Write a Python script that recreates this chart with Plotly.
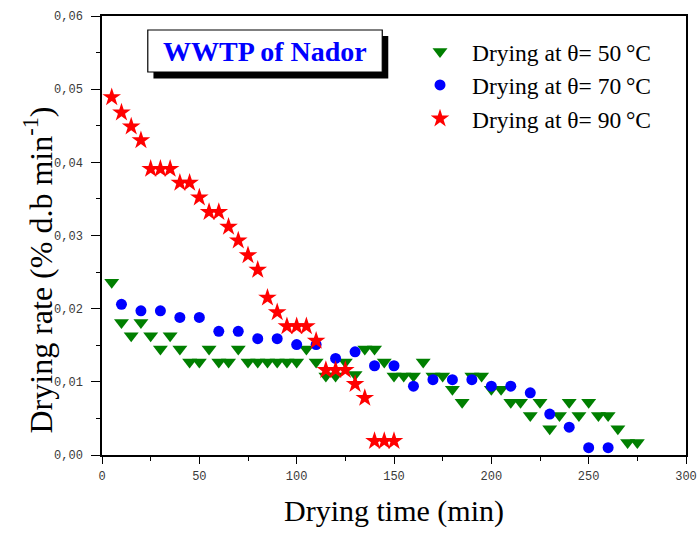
import plotly.graph_objects as go

# ---- data ----
t50 = [5, 10, 15, 20, 25, 30, 35, 40, 45, 50, 55, 60, 65, 70, 75, 80, 85, 90, 95, 100,
       105, 110, 115, 120, 125, 130, 135, 140, 145, 150, 155, 160, 165, 170, 175, 180, 185, 190, 195, 200,
       205, 210, 215, 220, 225, 230, 235, 240, 245, 250, 255, 260, 265, 270, 275]
r50 = [0.0236, 0.0181, 0.0163, 0.0181, 0.0163, 0.0145, 0.0163, 0.0145, 0.0127, 0.0127,
       0.0145, 0.0127, 0.0127, 0.0145, 0.0127, 0.0127, 0.0127, 0.0127, 0.0127, 0.0127,
       0.0145, 0.0127, 0.0108, 0.0108, 0.0127, 0.0110, 0.0145, 0.0145, 0.0127, 0.0108,
       0.0108, 0.0108, 0.0127, 0.0108, 0.0108, 0.0090, 0.0072, 0.0108, 0.0108, 0.0090,
       0.0090, 0.0072, 0.0072, 0.0054, 0.0072, 0.0036, 0.0054, 0.0072, 0.0054, 0.0072,
       0.0054, 0.0054, 0.0036, 0.0017, 0.0017]

t70 = [10, 20, 30, 40, 50, 60, 70, 80, 90, 100, 110, 120, 130, 140, 150, 160, 170, 180,
       190, 200, 210, 220, 230, 240, 250, 260]
r70 = [0.0206, 0.0197, 0.0197, 0.0188, 0.0188, 0.0169, 0.0169, 0.0159, 0.0159, 0.0151,
       0.0151, 0.0132, 0.0141, 0.0122, 0.0122, 0.0094, 0.0103, 0.0103, 0.0103, 0.0094,
       0.0094, 0.0085, 0.0056, 0.0038, 0.0010, 0.0010]

t90 = [5, 10, 15, 20, 25, 30, 35, 40, 45, 50, 55, 60, 65, 70, 75, 80, 85, 90, 95, 100,
       105, 110, 115, 120, 125, 130, 135, 140, 145, 150]
r90 = [0.0489, 0.0468, 0.0449, 0.0430, 0.0391, 0.0391, 0.0391, 0.0372, 0.0372, 0.0352,
       0.0332, 0.0332, 0.0312, 0.0293, 0.0273, 0.0253, 0.0215, 0.0195, 0.0176, 0.0176,
       0.0176, 0.0156, 0.0116, 0.0116, 0.0116, 0.0097, 0.0078, 0.0019, 0.0019, 0.0019]

names = ["Drying at θ= 50\u2009°C", "Drying at θ= 70\u2009°C", "Drying at θ= 90\u2009°C"]
x_title = "Drying time (min)"
y_title = "Drying rate (% d.b min<sup>-1</sup>)"

SERIF = "Liberation Serif, Times New Roman, serif"
MONO = "Liberation Mono, Courier New, monospace"

fig = go.Figure()
fig.add_trace(go.Scatter(x=t50, y=r50, mode="markers", name=names[0],
                         marker=dict(symbol="triangle-down", size=13, color="#007F00")))
fig.add_trace(go.Scatter(x=t70, y=r70, mode="markers", name=names[1],
                         marker=dict(symbol="circle", size=11, color="#0000FF")))
fig.add_trace(go.Scatter(x=t90, y=r90, mode="markers", name=names[2],
                         marker=dict(symbol="star", size=14, color="#FF0000")))

axis_common = dict(showline=True, linecolor="black", linewidth=1.5, mirror=True,
                   showgrid=False, zeroline=False, ticks="outside",
                   tickwidth=1.2, tickcolor="black", automargin=False,
                   tickfont=dict(family=MONO, size=12, color="#3a3a3a"))

fig.update_xaxes(range=[0, 300], dtick=50, tick0=0, ticklen=7, ticklabelstandoff=2,
                 minor=dict(dtick=25, ticks="outside", ticklen=4, tickcolor="black", showgrid=False),
                 title=dict(text=x_title, font=dict(family=SERIF, size=30, color="black"),
                            standoff=17),
                 **axis_common)
fig.update_yaxes(range=[0, 0.06], dtick=0.01, tick0=0, tickformat=".2f", ticklen=9,
                 ticklabelstandoff=6,
                 minor=dict(dtick=0.005, ticks="outside", ticklen=4, tickcolor="black", showgrid=False),
                 **axis_common)

# y-axis title (placed as rotated annotation to match the reference's offset)
fig.add_annotation(text=y_title, xref="paper", yref="paper", x=-0.109, y=0.421,
                   textangle=-90, showarrow=False, xanchor="center", yanchor="middle",
                   font=dict(family=SERIF, size=32, color="black"))

# title box with shadow
fig.add_shape(type="rect", xref="paper", yref="paper", x0=0.0881, x1=0.4902, y0=0.8576, y1=0.9544,
              fillcolor="black", line=dict(width=0))
fig.add_shape(type="rect", xref="paper", yref="paper", x0=0.0784, x1=0.4799, y0=0.8724, y1=0.9681,
              fillcolor="white", line=dict(color="black", width=1.2))
fig.add_annotation(text="<b>WWTP of Nador</b>", xref="paper", yref="paper", x=0.1013, y=0.9198,
                   showarrow=False, xanchor="left", yanchor="middle",
                   font=dict(family=SERIF, size=28, color="#0000FF"))

fig.update_layout(
    width=697, height=533,
    margin=dict(l=101.5, r=11, t=16, b=78),
    paper_bgcolor="white", plot_bgcolor="white",
    separators=",.",
    legend=dict(x=0.524, y=0.969, xanchor="left", yanchor="top",
                font=dict(family=SERIF, size=23.5, color="black"),
                bgcolor="rgba(0,0,0,0)", traceorder="normal", itemwidth=54),
    showlegend=True,
)

fig.write_html("out.html")
